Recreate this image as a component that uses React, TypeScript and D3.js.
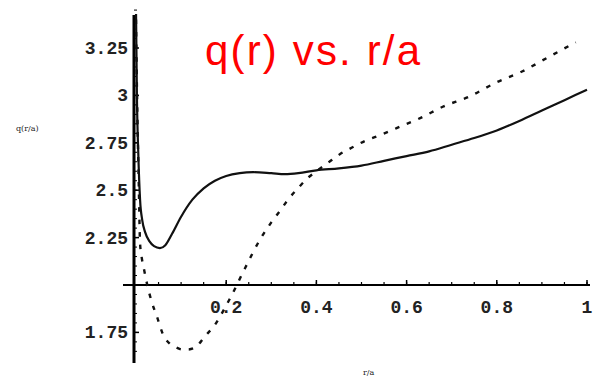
import React from "react";
import * as d3 from "d3";

const W = 597;
const H = 378;

const title = "q(r) vs. r/a";
const yAxisTitle = "q(r/a)";
const xAxisTitle = "r/a";

const xTickValues = [0.2, 0.4, 0.6, 0.8, 1];
const xTickLabels = ["0.2", "0.4", "0.6", "0.8", "1"];
const yTickValues = [1.75, 2.25, 2.5, 2.75, 3, 3.25];
const yTickLabels = ["1.75", "2.25", "2.5", "2.75", "3", "3.25"];

// solid curve
const solidR = [0, 0.002, 0.005, 0.009, 0.014, 0.02, 0.03, 0.04, 0.053, 0.065, 0.08, 0.1, 0.125, 0.15, 0.175, 0.2, 0.23, 0.26, 0.3, 0.33, 0.36, 0.4, 0.45, 0.5, 0.55, 0.6, 0.65, 0.7, 0.75, 0.8, 0.85, 0.9, 0.95, 1.0];
const solidQ = [3.45, 3.0, 2.7, 2.45, 2.34, 2.28, 2.23, 2.205, 2.195, 2.21, 2.27, 2.36, 2.45, 2.51, 2.55, 2.575, 2.59, 2.595, 2.59, 2.585, 2.59, 2.605, 2.615, 2.63, 2.655, 2.68, 2.705, 2.74, 2.775, 2.815, 2.865, 2.92, 2.975, 3.03];

// dashed curve
const dashR = [0, 0.003, 0.006, 0.009, 0.013, 0.018, 0.025, 0.035, 0.047, 0.058, 0.075, 0.09, 0.102, 0.115, 0.131, 0.153, 0.175, 0.195, 0.213, 0.242, 0.275, 0.3, 0.319, 0.337, 0.359, 0.381, 0.4, 0.426, 0.452, 0.479, 0.508, 0.541, 0.6, 0.63, 0.68, 0.74, 0.796, 0.856, 0.913, 0.975];
const dashQ = [3.4, 2.9, 2.55, 2.22, 2.14, 2.08, 2.0, 1.91, 1.83, 1.75, 1.69, 1.67, 1.66, 1.66, 1.67, 1.73, 1.79, 1.87, 1.95, 2.09, 2.24, 2.33, 2.39, 2.45, 2.51, 2.565, 2.6, 2.645, 2.69, 2.725, 2.76, 2.79, 2.85, 2.88, 2.94, 2.995, 3.065, 3.126, 3.2, 3.28];

const x = d3.scaleLinear().domain([0, 1]).range([136, 587]);
const y = d3.scaleLinear().domain([2, 3.25]).range([285, 48]);

export default function App() {
  const line = d3
    .line<[number, number]>()
    .x((d) => x(d[0]))
    .y((d) => y(d[1]))
    .curve(d3.curveMonotoneX);

  const solidPts = solidR.map((r, i) => [r, solidQ[i]] as [number, number]);
  const dashPts = dashR.map((r, i) => [r, dashQ[i]] as [number, number]);

  const xMinor = d3.range(0.05, 1.001, 0.05);
  const yMinor = d3.range(1.65, 3.451, 0.05);

  const x0 = x(0) - 2;
  const y0 = y(2);

  return (
    <svg
      width={W}
      height={H}
      style={{ position: "absolute", left: 0, top: 0, background: "#fff" }}
    >
      <defs>
        <clipPath id="clip">
          <rect x={0} y={14} width={W} height={H - 14} />
        </clipPath>
      </defs>
      {/* title */}
      <text
        x={205}
        y={65}
        fill="#ff0000"
        fontFamily="Liberation Sans, Arial, sans-serif"
        fontSize={42}
        textLength={215}
        lengthAdjust="spacing"
      >
        {title}
      </text>

      {/* axes */}
      <line x1={x0} x2={x0} y1={15} y2={363} stroke="#000" strokeWidth={3} />
      <line x1={123} x2={590} y1={y0} y2={y0} stroke="#000" strokeWidth={2} />

      {xMinor.map((v, i) => (
        <line key={"xm" + i} x1={x(v)} x2={x(v)} y1={y0} y2={y0 - 3} stroke="#000" strokeWidth={1.2} />
      ))}
      {xTickValues.map((v, i) => (
        <line key={"xM" + i} x1={x(v)} x2={x(v)} y1={y0 + 1} y2={y0 - 5} stroke="#000" strokeWidth={1.5} />
      ))}
      {yMinor.map((v, i) => (
        <line key={"ym" + i} x1={x0} x2={x0 + 3} y1={y(v)} y2={y(v)} stroke="#000" strokeWidth={1} />
      ))}
      {yTickValues.map((v, i) => (
        <line key={"yM" + i} x1={x0 - 1} x2={x0 + 5} y1={y(v)} y2={y(v)} stroke="#000" strokeWidth={1.5} />
      ))}

      {/* tick labels */}
      {xTickValues.map((v, i) => (
        <text
          key={"xl" + i}
          x={x(v)}
          y={313}
          textAnchor="middle"
          fontFamily="Liberation Mono, Courier New, monospace"
          fontWeight="bold"
          fontSize={18}
          fill="#222"
        >
          {xTickLabels[i]}
        </text>
      ))}
      {yTickValues.map((v, i) => (
        <text
          key={"yl" + i}
          x={128}
          y={y(v) + 6}
          textAnchor="end"
          fontFamily="Liberation Mono, Courier New, monospace"
          fontWeight="bold"
          fontSize={18}
          fill="#222"
        >
          {yTickLabels[i]}
        </text>
      ))}

      {/* axis titles */}
      <text x={16} y={131} fontFamily="DejaVu Serif, serif" fontSize={8} fill="#222">
        {yAxisTitle}
      </text>
      <text x={363} y={375} fontFamily="DejaVu Serif, serif" fontSize={8} fill="#222">
        {xAxisTitle}
      </text>

      {/* curves */}
      <g clipPath="url(#clip)">
        <path d={line(solidPts) || ""} fill="none" stroke="#111" strokeWidth={2.2} />
        <path
          d={line(dashPts) || ""}
          fill="none"
          stroke="#111"
          strokeWidth={2.4}
          strokeDasharray="4.5,8"
        />
      </g>
    </svg>
  );
}
